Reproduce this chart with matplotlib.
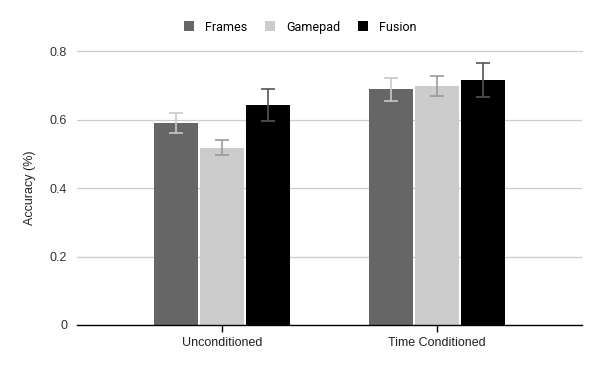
import numpy as np
import matplotlib.pyplot as plt

categories = ["Unconditioned", "Time Conditioned"]
series = ["Frames", "Gamepad", "Fusion"]
frames = [0.590, 0.688]
gamepad = [0.517, 0.698]
fusion = [0.643, 0.716]
frames_err = [0.028, 0.033]
gamepad_err = [0.022, 0.030]
fusion_err = [0.046, 0.050]

colors = ["#666666", "#cccccc", "#000000"]
err_colors = ["#c8c8c8", "#999999", "#555555"]

plt.rcParams['font.family'] = ['Liberation Sans', 'DejaVu Sans']

fig = plt.figure(figsize=(6, 3.71), dpi=100)
ax = fig.add_axes([0.128, 0.124, 0.842, 0.7385])

x = np.arange(len(categories))
width = 0.205
step = 0.214
values = [frames, gamepad, fusion]
errs = [frames_err, gamepad_err, fusion_err]
for i, (name, vals, err) in enumerate(zip(series, values, errs)):
    pos = x + (i - 1) * step
    ax.bar(pos, vals, width, color=colors[i], label=name, zorder=2)
    ax.errorbar(pos, vals, yerr=err, fmt='none', ecolor=err_colors[i],
                elinewidth=1.2, capsize=5, capthick=1.2, zorder=3, clip_on=False)

ax.set_xlim(-0.674, 1.674)
ax.set_ylim(0, 0.8)
ax.set_yticks([0, 0.2, 0.4, 0.6, 0.8])
ax.set_yticklabels(["0", "0.2", "0.4", "0.6", "0.8"])
ax.set_xticks(x)
ax.set_xticklabels(categories)
ax.yaxis.grid(True, color="#cccccc", linewidth=0.9, zorder=0)
ax.set_axisbelow(True)
for s in ["top", "right", "left"]:
    ax.spines[s].set_visible(False)
ax.spines["bottom"].set_color("#000000")
ax.spines["bottom"].set_linewidth(1.0)
ax.tick_params(axis='y', length=0, pad=7, labelsize=9, labelcolor="#333333")
ax.tick_params(axis='x', direction='inout', length=10, width=1, color="#000000",
               pad=4, labelsize=9, labelcolor="#222222")
ax.get_yaxis().get_gridlines()[-1].set_clip_on(False)
ax.set_ylabel("Accuracy (%)", fontsize=9, color="#222222", labelpad=10)

fig.legend(loc="center", bbox_to_anchor=(0.5, 0.927), ncol=3, frameon=False,
           handlelength=0.8, handleheight=0.8, handletextpad=0.9, columnspacing=1.4,
           prop={'family': 'Roboto', 'size': 9})

fig.savefig("out.png", dpi=100)
